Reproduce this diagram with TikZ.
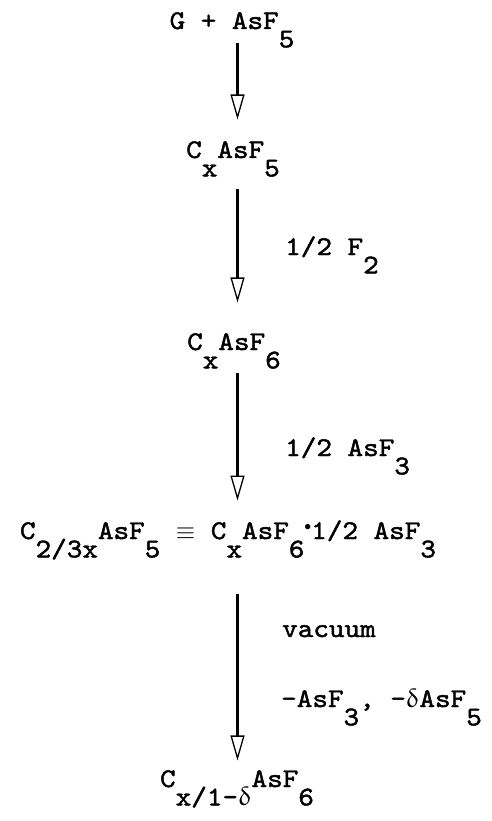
\documentclass[tikz,border=0pt]{standalone}
\usepackage{fontspec}
\setmonofont{lmmono10-regular}[Extension=.otf, FakeStretch=1.1, FakeBold=1.6]
\usepackage{upgreek}
\usepackage{tikz}
\usetikzlibrary{arrows.meta, positioning}

% lowered subscript, typewriter style
\newcommand{\dn}[1]{\raisebox{-0.68em}{#1}}
\newcommand{\mdot}{\raisebox{0.32em}{\scalebox{0.55}{$\bullet$}}}

\begin{document}
\begin{tikzpicture}[x=1pt, y=-1pt,
    >={Triangle[open, length=25pt, width=14pt, line width=1.3pt]},
    chem/.style={anchor=base, inner sep=0pt, font=\fontsize{27}{32}\ttfamily},
    cond/.style={anchor=base west, inner sep=0pt, font=\fontsize{27}{32}\ttfamily},
    reac/.style={->, line width=2.8pt}]
    \useasboundingbox (0,0) rectangle (491,821);

    % 1. Species
    \node[chem] (g)  at (232,29)  {G + AsF\dn{5}};
    \node[chem] (c5) at (233,158) {C\dn{x}AsF\dn{5}};
    \node[chem] (c6) at (234,350) {C\dn{x}AsF\dn{6}};
    \node[chem] (cf) at (228,539) {C\dn{2/3x}AsF\dn{5} $\equiv$ C\dn{x}AsF\dn{6}\mdot 1/2 AsF\dn{3}};
    \node[chem] (cd) at (237,787) {C\dn{x/1-$\updelta$}AsF\dn{6}};
    \coordinate (ax) at (237.5,0);

    % 2. Reaction arrows
    \draw[reac, shorten <=-5pt, shorten >=21.5pt] (g.south -| ax) -- (c5.north -| ax);
    \draw[reac, shorten <=12pt, shorten >=30.5pt] (c5.south -| ax) -- (c6.north -| ax);
    \draw[reac, shorten <=4pt, shorten >=19.5pt] (c6.south -| ax) -- (cf.north -| ax);
    \draw[reac, shorten <=34pt, shorten >=9.5pt] (cf.south -| ax) -- (cd.north -| ax);

    % 3. Conditions
    \node[cond] (f2)  at (285,255) {1/2 F\dn{2}};
    \node[cond] (af3) at (285,456) {1/2 AsF\dn{3}};
    \node[cond] (vac) at (282,637) {vacuum};
    \node[cond] (rm)  at (281,707) {-AsF\dn{3}, -$\updelta$AsF\dn{5}};
\end{tikzpicture}
\end{document}
